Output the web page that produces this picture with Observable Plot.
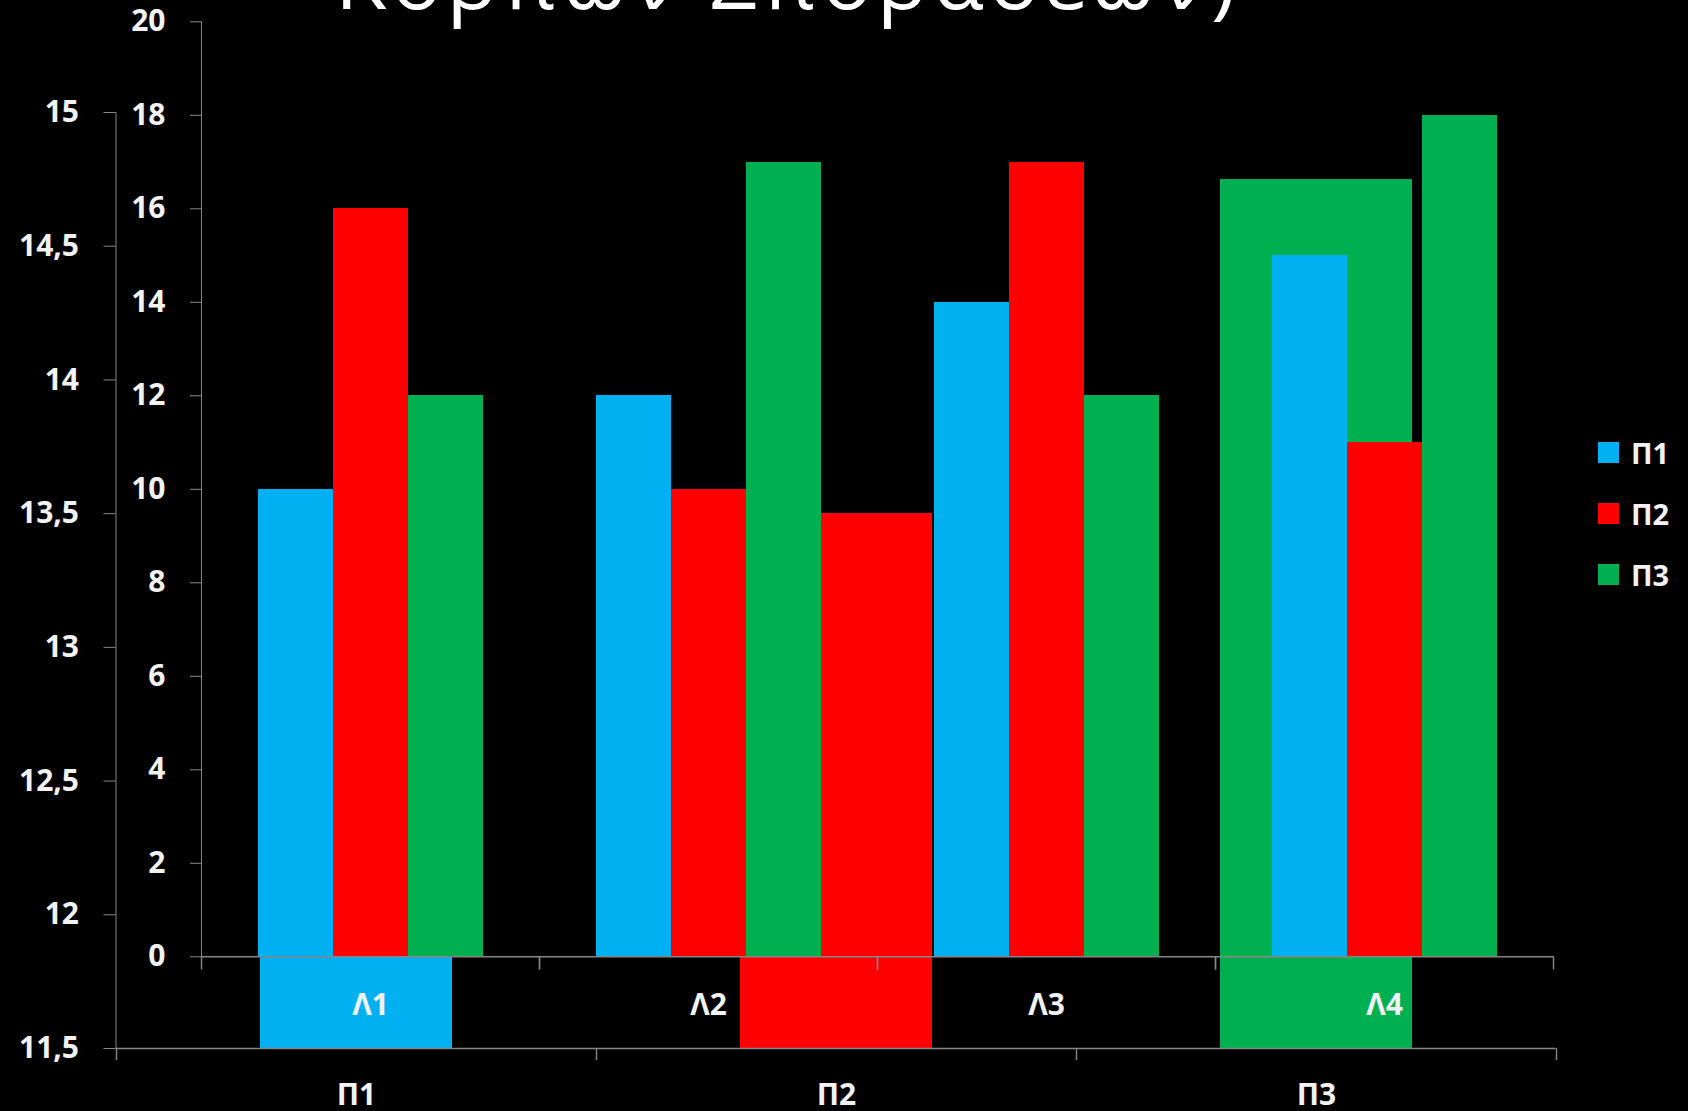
<!DOCTYPE html>
<html><head><meta charset="utf-8">
<script src="https://cdn.jsdelivr.net/npm/d3@7"></script>
<script src="https://cdn.jsdelivr.net/npm/@observablehq/plot@0.6"></script>
<style>
html,body{margin:0;padding:0;background:#000;}
#wrap{position:relative;width:1688px;height:1111px;overflow:hidden;background:#000;font-family:"Open Sans",sans-serif;}
#wrap svg{position:absolute;left:0;top:0;overflow:visible;}
#wrap svg text{fill:#f2f2f2;}
.leg{position:absolute;display:flex;align-items:center;color:#f2f2f2;font:700 29px "Open Sans",sans-serif;}
.leg span.sw{display:inline-block;width:21px;height:21px;margin-right:12px;}
</style></head><body><div id="wrap"></div>
<script>
// ---- data ----
const series = ["Π1", "Π2", "Π3"];
const seriesColors = ["#00B0F0", "#FF0000", "#00B050"];

// back chart (left axis 11,5 – 15)
const backCats = ["Π1", "Π2", "Π3"];
const backValues = [13.0, 13.5, 14.75];
const backTicks = [11.5, 12, 12.5, 13, 13.5, 14, 14.5, 15];

// front chart (axis 0 – 20)
const frontCats = ["Λ1", "Λ2", "Λ3", "Λ4"];
const frontP1 = [10, 12, 14, 15];
const frontP2 = [16, 10, 17, 11];
const frontP3 = [12, 17, 12, 18];
const frontTicks = [0, 2, 4, 6, 8, 10, 12, 14, 16, 18, 20];

const titleText = "Κορπών Σποράσεων)";

// ---- layout ----
const W = 1688, H = 1111;
const AX = "#868686";
const fmt = d => String(d).replace(".", ",");
const wrap = document.getElementById("wrap");

// back chart
const bM = {top: 112, bottom: 63, left: 115.5, right: 132.5};
const bStep = (W - bM.left - bM.right) / backCats.length;
const bInnerH = H - bM.top - bM.bottom;
const backData = backCats.map((c, i) => ({cat: c, base: backTicks[0], value: backValues[i]}));

const back = Plot.plot({
  width: W, height: H,
  marginTop: bM.top, marginBottom: bM.bottom, marginLeft: bM.left, marginRight: bM.right,
  style: {background: "transparent", color: AX, fontFamily: "'Open Sans', sans-serif", fontSize: "30px", fontWeight: "700", overflow: "visible"},
  x: {domain: backCats, paddingInner: 0.6, paddingOuter: 0.3, tickSize: 0, tickPadding: 35, label: null},
  y: {domain: [backTicks[0], backTicks[backTicks.length - 1]], ticks: backTicks, tickFormat: fmt, tickSize: 12, tickPadding: 25, line: true, label: null},
  color: {domain: series, range: seriesColors},
  marks: [
    Plot.barY(backData, {x: "cat", y1: "base", y2: "value", fill: "cat", shapeRendering: "crispEdges"}),
    Plot.ruleY([backTicks[0]], {stroke: AX, strokeWidth: 1.4}),
    Plot.ruleX(backCats, {x: d => d, dx: -bStep / 2, insetTop: bInnerH, insetBottom: -12, stroke: AX, strokeWidth: 1.4}),
    Plot.ruleX([backCats[backCats.length - 1]], {x: d => d, dx: bStep / 2, insetTop: bInnerH, insetBottom: -12, stroke: AX, strokeWidth: 1.4})
  ]
});
wrap.appendChild(back);

// front chart
const fM = {top: 21.3, bottom: 154.7, left: 200.3, right: 134.5};
const fInnerH = H - fM.top - fM.bottom;
const frontVals = [frontP1, frontP2, frontP3];
const frontData = frontCats.flatMap((c, i) => series.map((s, j) => ({cat: c, s, v: frontVals[j][i]})));

const front = Plot.plot({
  width: W, height: H,
  marginTop: fM.top, marginBottom: fM.bottom, marginLeft: fM.left, marginRight: fM.right,
  style: {background: "transparent", color: AX, fontFamily: "'Open Sans', sans-serif", fontSize: "30px", fontWeight: "700", overflow: "visible"},
  fx: {domain: frontCats, padding: 0, axis: "bottom", tickSize: 0, tickPadding: 37, label: null},
  x: {domain: series, paddingInner: 0, paddingOuter: 0.75, axis: null},
  y: {domain: [frontTicks[0], frontTicks[frontTicks.length - 1]], ticks: frontTicks, tickSize: 11, tickPadding: 25, line: true, label: null},
  color: {domain: series, range: seriesColors},
  marks: [
    Plot.barY(frontData, {fx: "cat", x: "s", y: "v", fill: "s", shapeRendering: "crispEdges"}),
    Plot.ruleY([frontTicks[0]], {stroke: AX, strokeWidth: 1.4}),
    Plot.frame({anchor: "left", insetTop: fInnerH, insetBottom: -12, stroke: AX, strokeWidth: 1.4}),
    Plot.frame({anchor: "right", insetTop: fInnerH, insetBottom: -12, stroke: AX, strokeWidth: 1.4})
  ]
});
wrap.appendChild(front);

// title (cut off at top, as in the reference)
const tsvg = d3.select(wrap).append("svg").attr("width", W).attr("height", 60);
tsvg.append("text")
  .attr("x", 335).attr("y", 9)
  .attr("font-family", "'Open Sans', sans-serif")
  .attr("font-size", 84)
  .attr("letter-spacing", 5)
  .style("fill", "#ffffff")
  .text(titleText);

// legend
series.forEach((s, i) => {
  const d = document.createElement("div");
  d.className = "leg";
  d.style.left = "1598px";
  d.style.top = (433 + i * 61) + "px";
  d.innerHTML = `<span class="sw" style="background:${seriesColors[i]}"></span>${s}`;
  wrap.appendChild(d);
});
</script>
</body></html>
